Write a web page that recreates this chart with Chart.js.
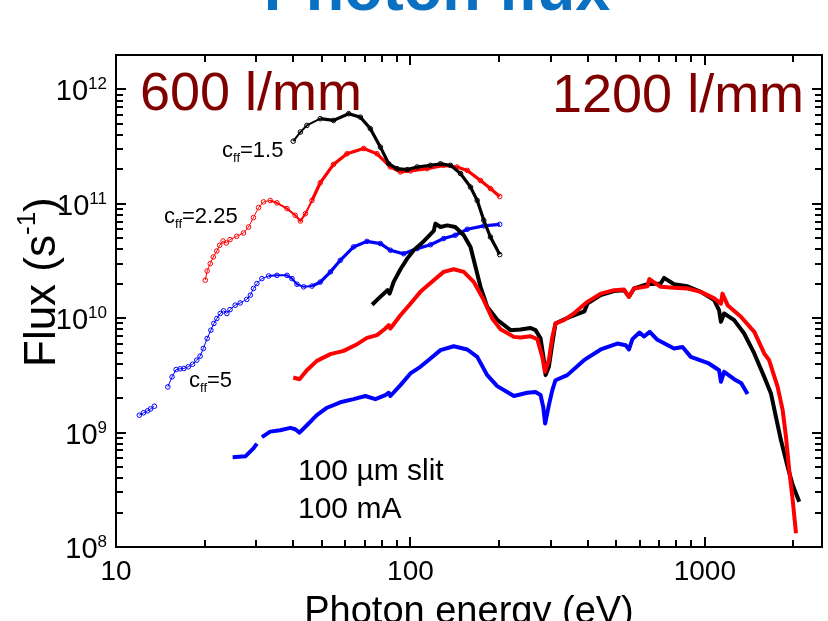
<!DOCTYPE html>
<html>
<head>
<meta charset="utf-8">
<script src="https://cdn.jsdelivr.net/npm/chart.js@4.4.1/dist/chart.umd.min.js"></script>
<style>
  html, body { margin: 0; padding: 0; background: #fff; }
</style>
</head>
<body>
<canvas id="fluxChart" width="828" height="621"></canvas>
<script>
// 600 l/mm grating, measured with open circles (photon energy in eV, flux in 1/s)
const blk600E = [40, 42.3, 44.5, 49.4, 54.8, 61.7, 67.6, 73.1, 79.1, 84.4, 90.1, 97.5, 105.4, 117, 126.5, 136.8, 148, 160, 168.6, 177.5, 187, 201];
const blk600F = [3.53e11, 4.24e11, 4.85e11, 5.55e11, 5.36e11, 6.14e11, 5.73e11, 4.54e11, 3.13e11, 2.24e11, 2.03e11, 1.99e11, 2.10e11, 2.17e11, 2.24e11, 2.17e11, 1.84e11, 1.40e11, 1.07e11, 7.18e10, 5.13e10, 3.6e10];

const red600E = [20.1, 20.4, 20.9, 21.4, 22.0, 22.5, 23.1, 23.7, 24.4, 25.7, 27.1, 28.2, 29.3, 30.5, 31.7, 33.4, 35.2, 38.1, 40.6, 42.3, 44.0, 46.3, 49.4, 54.8, 60.9, 69.4, 77.0, 85.5, 92.5, 100, 114, 129.7, 144, 156, 173, 187, 201];
const red600F = [2.15e10, 2.59e10, 3.0e10, 3.43e10, 3.87e10, 4.34e10, 4.73e10, 4.55e10, 4.87e10, 5.2e10, 5.56e10, 6.27e10, 7.58e10, 9.27e10, 1.04e11, 1.07e11, 1.02e11, 9.08e10, 7.94e10, 7.08e10, 8.2e10, 1.07e11, 1.53e11, 2.21e11, 2.74e11, 3.05e11, 2.74e11, 2.1e11, 1.9e11, 1.94e11, 2.03e11, 2.17e11, 2.1e11, 1.96e11, 1.6e11, 1.36e11, 1.16e11];

// null = gap in the measurement
const blu600E = [12.0, 12.4, 12.8, 13.1, 13.5, 14.2, 15.0, 15.5, 16.0, 16.5, 17.0, 17.6, 18.2, 18.8, 19.3, 19.8, 20.4, 21.0, 21.5, 22.0, 22.6, 23.2, 23.8, 24.4, 25.4, 26.4, 27.8, 28.6, 29.3, 30.1, 31.3, 33.0, 35.2, 38.1, 39.6, 41.2, 43.4, 46.3, 49.4, 53.5, 57.8, 64.1, 71.2, 79.1, 85.5, 94.8, 105.4, 117, 129.7, 142, 156, 177.5, 201];
const blu600F = [1.42e9, 1.49e9, 1.55e9, 1.61e9, 1.70e9, null, 2.51e9, 3.07e9, 3.56e9, 3.61e9, 3.64e9, 3.76e9, 3.96e9, 4.3e9, 4.66e9, 5.44e9, 6.65e9, 7.86e9, 9.0e9, 9.94e9, 1.1e10, 1.16e10, 1.1e10, 1.19e10, 1.3e10, 1.36e10, 1.46e10, 1.59e10, 1.82e10, 2.01e10, 2.22e10, 2.34e10, 2.37e10, 2.37e10, 2.22e10, 1.98e10, 1.88e10, 1.91e10, 2.07e10, 2.54e10, 3.21e10, 4.2e10, 4.7e10, 4.49e10, 3.93e10, 3.66e10, 4.06e10, 4.39e10, 4.97e10, 5.31e10, 5.99e10, 6.42e10, 6.62e10];

// 1200 l/mm grating, solid lines
const blk1200E = [74.1, 80.1, 83.6, 85.0, 87.7, 92.5, 97.5, 102.6, 109.6, 120, 121.6, 126.5, 133.3, 142, 151.8, 160, 166.4, 173, 182.3, 197.2, 218.8, 236.6, 256, 266, 276.7, 284, 287.8, 295.3, 303.4, 311, 332, 359, 390, 399, 443, 491.5, 531.6, 552.6, 574.8, 638.4, 708, 727, 786, 873, 969, 1076, 1118, 1134, 1163, 1258, 1360, 1472, 1591, 1677, 1744, 1813, 1911, 1988, 2093];
const blk1200F = [1.31e10, 1.59e10, 1.76e10, 1.64e10, 2.08e10, 2.68e10, 3.32e10, 3.93e10, 4.56e10, 5.8e10, 6.71e10, 6.27e10, 6.48e10, 6.27e10, 5.31e10, 4.2e10, 2.81e10, 1.88e10, 1.26e10, 9.7e9, 7.86e9, 7.96e9, 8.22e9, 7.86e9, 6.68e9, 4.3e9, 3.18e9, 3.76e9, 6.01e9, 9.0e9, 9.75e9, 1.06e10, 1.15e10, 1.34e10, 1.59e10, 1.73e10, 1.76e10, 1.54e10, 1.82e10, 1.98e10, 2.01e10, 2.25e10, 1.98e10, 1.90e10, 1.70e10, 1.44e10, 1.17e10, 9.29e9, 1.1e10, 9.62e9, 7.35e9, 4.92e9, 3.07e9, 2.2e9, 1.37e9, 8.6e8, 5.02e8, 3.48e8, 2.49e8];

const red1200E = [40.0, 42.0, 44.5, 48.1, 53.5, 59.3, 65.9, 71.2, 77.0, 82.2, 84.4, 85.5, 92.5, 100, 108.1, 120, 129.7, 140.3, 151.8, 164, 177.5, 189.6, 202.3, 224.6, 236.6, 256, 269.8, 280.5, 286.3, 295.3, 303.4, 311, 332, 359, 399, 443, 491.5, 531.6, 552.6, 574.8, 638.4, 648, 708, 786, 873, 969, 1076, 1134, 1148, 1195, 1326, 1472, 1591, 1653, 1767, 1838, 1886, 1935, 1988, 2040];
const red1200F = [3.03e9, 2.93e9, 3.51e9, 4.24e9, 4.85e9, 5.18e9, 5.93e9, 6.73e9, 7.11e9, 8.13e9, 8.69e9, 8.13e9, 1.06e10, 1.34e10, 1.70e10, 2.15e10, 2.54e10, 2.68e10, 2.54e10, 2.08e10, 1.44e10, 9.94e9, 8.02e9, 6.87e9, 6.78e9, 6.96e9, 6.56e9, 4.59e9, 3.4e9, 4.3e9, 6.87e9, 9.0e9, 9.62e9, 1.1e10, 1.39e10, 1.64e10, 1.76e10, 1.78e10, 1.54e10, 1.82e10, 1.9e10, 2.2e10, 1.88e10, 1.85e10, 1.82e10, 1.70e10, 1.49e10, 1.34e10, 1.64e10, 1.30e10, 1.03e10, 7.59e9, 4.92e9, 4.3e9, 2.51e9, 1.57e9, 9.19e8, 4.7e8, 2.57e8, 1.32e8];

const blu1200E = [24.9, 27.5, 29.3, 30.1, 30.7, 31.3, 33.4, 36.1, 39.1, 40.6, 42.0, 44.5, 48.1, 52.1, 57.8, 64.1, 70.3, 76, 82.2, 84.4, 85.5, 92.5, 100, 108.1, 117, 126.5, 140.3, 156, 168.6, 182.3, 197.2, 224.6, 249.5, 266, 276.7, 282.5, 286.8, 295.3, 303.4, 311, 341, 388.6, 443, 504.4, 538.6, 552.6, 567.5, 600, 621.6, 650, 690.2, 786, 840, 895.8, 1032, 1118, 1134, 1163, 1258, 1330, 1397];
const blu1200F = [6.1e8, 6.2e8, 7.28e8, 8.02e8, null, 9.14e8, 1.02e9, 1.05e9, 1.10e9, 1.07e9, 1.0e9, 1.16e9, 1.42e9, 1.65e9, 1.84e9, 1.96e9, 2.09e9, 1.96e9, 2.13e9, 2.23e9, 2.09e9, 2.6e9, 3.29e9, 3.76e9, 4.45e9, 5.26e9, 5.69e9, 5.33e9, 4.59e9, 3.18e9, 2.55e9, 2.09e9, 2.23e9, 2.26e9, 2.13e9, 1.68e9, 1.2e9, 1.74e9, 2.35e9, 2.87e9, 3.18e9, 4.3e9, 5.33e9, 6.01e9, 5.81e9, 5.33e9, 6.56e9, 7.5e9, 6.92e9, 7.6e9, 6.47e9, 5.43e9, 5.6e9, 4.59e9, 4.02e9, 3.51e9, 2.78e9, 3.4e9, 2.93e9, 2.7e9, 2.17e9];

// axis ticks and labels
const xMajor = [10, 100, 1000];
const xMinor = [20, 30, 40, 50, 60, 70, 80, 90, 200, 300, 400, 500, 600, 700, 800, 900, 2000];
const xTickLabels = ['10', '100', '1000'];
const yMajor = [1e8, 1e9, 1e10, 1e11, 1e12];
const yExponents = ['8', '9', '10', '11', '12'];
const yMinor = [];
yMajor.slice(0, 4).forEach(d => {
    for (let m = 2; m <= 9; m++) yMinor.push(m * d);
});

const FONT = "'Liberation Sans', Arial, sans-serif";

const toPoints = (xs, ys) => xs.map((x, i) => ({ x: x, y: ys[i] }));

// the circle traces get denser with energy, so the connecting line thickens there
const circles = (label, color, xs, ys) => ({
    label: label,
    data: toPoints(xs, ys),
    borderColor: color,
    borderWidth: 1,
    segment: {
        borderWidth: c => (c.p0.x < 265 ? 1 : c.p0.x < 310 ? 2 : 3.2)
    },
    pointStyle: 'circle',
    pointRadius: 2.3,
    pointBorderWidth: 1,
    pointBorderColor: color,
    pointBackgroundColor: 'rgba(255,255,255,0)',
    fill: false,
    tension: 0
});

const solid = (label, color, xs, ys) => ({
    label: label,
    data: toPoints(xs, ys),
    borderColor: color,
    borderWidth: 4,
    borderJoinStyle: 'round',
    pointRadius: 0,
    fill: false,
    tension: 0
});

// label with a subscript part, e.g. c_ff=1.5
function subLabel(ctx, x, y, main, sub, rest) {
    ctx.font = '22px ' + FONT;
    ctx.fillText(main, x, y);
    x += ctx.measureText(main).width;
    ctx.font = '13px ' + FONT;
    ctx.fillText(sub, x, y + 5);
    x += ctx.measureText(sub).width;
    ctx.font = '22px ' + FONT;
    ctx.fillText(rest, x, y);
}

const decor = {
    id: 'decor',
    afterDraw(chart) {
        const { ctx, chartArea: a, scales: { x, y } } = chart;
        ctx.save();

        // frame
        ctx.strokeStyle = '#000';
        ctx.lineWidth = 2;
        ctx.strokeRect(a.left, a.top, a.right - a.left, a.bottom - a.top);

        // inward ticks on all four sides
        const xTick = (v, len) => {
            const px = Math.round(x.getPixelForValue(v));
            ctx.beginPath();
            ctx.moveTo(px, a.bottom); ctx.lineTo(px, a.bottom - len);
            ctx.moveTo(px, a.top); ctx.lineTo(px, a.top + len);
            ctx.stroke();
        };
        const yTick = (v, len) => {
            const py = Math.round(y.getPixelForValue(v));
            ctx.beginPath();
            ctx.moveTo(a.left, py); ctx.lineTo(a.left + len, py);
            ctx.moveTo(a.right, py); ctx.lineTo(a.right - len, py);
            ctx.stroke();
        };
        xMajor.forEach(v => xTick(v, 10));
        xMinor.forEach(v => xTick(v, 7));
        yMajor.forEach(v => yTick(v, 10));
        yMinor.forEach(v => yTick(v, 7));

        ctx.fillStyle = '#000';
        ctx.textBaseline = 'alphabetic';

        // x tick labels
        ctx.font = '28px ' + FONT;
        ctx.textAlign = 'center';
        xMajor.forEach((v, i) => {
            ctx.fillText(xTickLabels[i], x.getPixelForValue(v), 580);
        });

        // y tick labels 10^n
        yMajor.forEach((v, i) => {
            const py = y.getPixelForValue(v);
            ctx.font = '17px ' + FONT;
            const ew = ctx.measureText(yExponents[i]).width;
            ctx.textAlign = 'left';
            ctx.fillText(yExponents[i], 107 - ew, py);
            ctx.font = '29px ' + FONT;
            ctx.textAlign = 'right';
            ctx.fillText('10', 107 - ew, py + 11);
        });

        // axis titles
        ctx.textAlign = 'center';
        ctx.font = '38px ' + FONT;
        ctx.fillText('Photon energy (eV)', (a.left + a.right) / 2, 623);

        ctx.save();
        ctx.translate(55, 367);
        ctx.rotate(-Math.PI / 2);
        ctx.textAlign = 'left';
        ctx.font = '44px ' + FONT;
        let tx = 0;
        ctx.fillText('Flux (s', tx, 0);
        tx += ctx.measureText('Flux (s').width;
        ctx.font = '26px ' + FONT;
        ctx.fillText('-1', tx, -20);
        tx += ctx.measureText('-1').width;
        ctx.font = '44px ' + FONT;
        ctx.fillText(')', tx, 0);
        ctx.restore();

        // page title, mostly cut off at the top edge
        ctx.textAlign = 'center';
        ctx.fillStyle = '#0a70c2';
        ctx.font = 'bold 63px ' + FONT;
        ctx.fillText('Photon flux', 437, 10);

        // grating labels
        ctx.textAlign = 'left';
        ctx.fillStyle = '#800000';
        ctx.font = '54px ' + FONT;
        ctx.fillText('600 l/mm', 140, 110);
        ctx.fillText('1200 l/mm', 552, 112);

        // fix-focus constants and conditions
        ctx.fillStyle = '#000';
        subLabel(ctx, 222, 157, 'c', 'ff', '=1.5');
        subLabel(ctx, 164, 223, 'c', 'ff', '=2.25');
        subLabel(ctx, 189, 387, 'c', 'ff', '=5');
        ctx.font = '30px ' + FONT;
        ctx.fillText('100 \u00b5m slit', 298, 480);
        ctx.fillText('100 mA', 298, 518);

        ctx.restore();
    }
};

const ctx = document.getElementById('fluxChart').getContext('2d');
new Chart(ctx, {
    type: 'line',
    data: {
        datasets: [
            solid('1200 l/mm, red', '#ff0000', red1200E, red1200F),
            solid('1200 l/mm, black', '#000000', blk1200E, blk1200F),
            solid('1200 l/mm, blue', '#0000ff', blu1200E, blu1200F),
            circles('600 l/mm, cff=1.5', '#000000', blk600E, blk600F),
            circles('600 l/mm, cff=2.25', '#ff0000', red600E, red600F),
            circles('600 l/mm, cff=5', '#0000ff', blu600E, blu600F)
        ]
    },
    options: {
        responsive: false,
        animation: false,
        devicePixelRatio: 1,
        events: [],
        layout: { padding: { left: 0, right: 6, top: 55, bottom: 0 } },
        plugins: {
            legend: { display: false },
            tooltip: { enabled: false }
        },
        scales: {
            x: {
                type: 'logarithmic',
                min: 10,
                max: 2500,
                grid: { display: false },
                border: { display: false },
                ticks: { display: false },
                afterFit: s => { s.height = 74; }
            },
            y: {
                type: 'logarithmic',
                min: 1e8,
                max: 2e12,
                grid: { display: false },
                border: { display: false },
                ticks: { display: false },
                afterFit: s => { s.width = 116; }
            }
        }
    },
    plugins: [decor]
});
</script>
</body>
</html>
